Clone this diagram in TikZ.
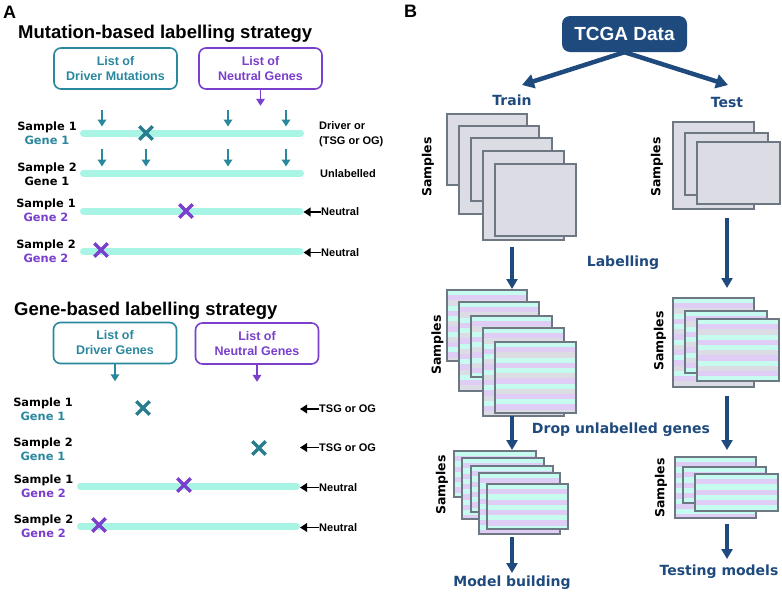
\documentclass[tikz,border=0pt]{standalone}
\usepackage{fontspec}
\setmainfont{DejaVu Sans}
\newfontfamily\arialfont{Liberation Sans}
\usetikzlibrary{arrows.meta}
\usetikzlibrary{shapes.misc}
\usetikzlibrary{calc}

\definecolor{tealc}{HTML}{2A889E}
\definecolor{tealx}{HTML}{2A7D8E}
\definecolor{purpc}{HTML}{7A3FCC}
\definecolor{barcol}{HTML}{A8F5E6}
\definecolor{navy}{HTML}{1F4A7E}
\definecolor{sheetfill}{HTML}{DCDCE4}
\definecolor{sheetline}{HTML}{6E7883}
\definecolor{gc}{HTML}{C6FCF0}
\definecolor{gp}{HTML}{E0CDF5}
\definecolor{gg}{HTML}{DCDCE4}

\newcommand\rawstripes{gc,gp,gg,gc,gp,gc,gg,gp,gc,gg,gp,gc,gp,gg,gc,gp,gg,gc}
\newcommand\cleanstripes{gc,gp,gc,gp,gc,gp,gc,gp,gc,gp,gc,gp,gc,gp,gc,gp,gc,gp}

\tikzset{
  listbox/.style={draw=#1, text=#1, line width=1.6pt, rounded corners=7pt,
    minimum width=123pt, minimum height=41pt, align=center, inner sep=0pt,
    font=\arialfont\bfseries\fontsize{12.5}{15}\selectfont},
  samplelab/.style={align=center, inner sep=0pt, font=\bfseries\fontsize{11.4}{14}\selectfont},
  sidelab/.style={anchor=west, align=left, inner sep=0pt,
    font=\arialfont\bfseries\fontsize{11}{15}\selectfont},
  genebar/.style={line width=7pt, line cap=round, barcol},
  mutx/.style={cross out, draw=#1, line width=3.4pt, minimum size=10pt, inner sep=0pt},
  smallarr/.style={#1, line width=1.8pt, -{Triangle[width=8.5pt,length=7pt]}},
  bigarr/.style={navy, line width=4pt, -{Triangle[width=11pt,length=10pt]}},
  splitarr/.style={navy, line width=4.5pt, -{Triangle[width=14pt,length=12pt]}},
  bluelab/.style={navy, inner sep=0pt, font=\bfseries\fontsize{14}{16}\selectfont},
  samplesrot/.style={rotate=90, inner sep=0pt, font=\bfseries\fontsize{12.5}{14}\selectfont},
  plainsheet/.style={draw=sheetline, fill=sheetfill, line width=1.1pt},
  rawsheet/.style={draw=sheetline, line width=1.1pt, path picture={
    \foreach \c [count=\i from 0] in \rawstripes
      {\fill[\c] ($(path picture bounding box.north west)+(0,\i*5.2)$) rectangle ++(95,5.2);}}},
  cleansheet/.style={draw=sheetline, line width=1.1pt, path picture={
    \foreach \c [count=\i from 0] in \cleanstripes
      {\fill[\c] ($(path picture bounding box.north west)+(0,\i*5.2)$) rectangle ++(95,5.2);}}},
}

\begin{document}
\begin{tikzpicture}[x=1pt, y=-1pt]
    \fill[white] (0,0) rectangle (782,595);
    \useasboundingbox (0,0) rectangle (782,595);

    % panel A
    \node[anchor=base west, inner sep=0pt, font=\arialfont\bfseries\fontsize{18}{20}\selectfont] (pa) at (3,18) {A};
    \node[anchor=base west, inner sep=0pt, font=\arialfont\bfseries\fontsize{18.5}{20}\selectfont] (mtitle) at (18,38) {Mutation-based labelling strategy};

    \node[listbox=tealc] (mdrv) at (115.5,68.5) {List of\\Driver Mutations};
    \node[listbox=purpc] (mneu) at (260.5,68.5) {List of\\Neutral Genes};
    \draw[smallarr=purpc] (mneu.south) -- ++(0,16);

    \node[samplelab] (ms1) at (47,133.5) {Sample 1\\\textcolor{tealc}{Gene 1}};
    \node[samplelab] (ms2) at (47,174) {Sample 2\\Gene 1};
    \node[samplelab] (ms3) at (46,210.5) {Sample 1\\\textcolor{purpc}{Gene 2}};
    \node[samplelab] (ms4) at (46,251) {Sample 2\\\textcolor{purpc}{Gene 2}};

    \coordinate (mb1w) at (83.5,133); \coordinate (mb1e) at (300.5,133);
    \coordinate (mb2w) at (83.5,173); \coordinate (mb2e) at (300.5,173);
    \coordinate (mb3w) at (83.5,211); \coordinate (mb3e) at (300,211);
    \coordinate (mb4w) at (83.5,251.5); \coordinate (mb4e) at (300,251.5);
    \draw[genebar] (mb1w) -- (mb1e);
    \draw[genebar] (mb2w) -- (mb2e);
    \draw[genebar] (mb3w) -- (mb3e);
    \draw[genebar] (mb4w) -- (mb4e);

    \foreach \xx in {102,228,286}
        \draw[smallarr=tealc] (\xx,110) -- (\xx,126.5);
    \foreach \xx in {102,146,228,286}
        \draw[smallarr=tealc] (\xx,149) -- (\xx,166.5);

    \node[mutx=tealx] (mx1) at (146,133) {};
    \node[mutx=purpc] (mx3) at (186,211) {};
    \node[mutx=purpc] (mx4) at (101,250) {};

    \node[sidelab] (mr1) at (319,134) {Driver or\\(TSG or OG)};
    \node[sidelab] (mr2) at (320,174) {Unlabelled};
    \node[sidelab] (mr3) at (321,212) {Neutral};
    \node[sidelab] (mr4) at (321,252.5) {Neutral};
    \draw[smallarr=black] (mr3.west) -- ++(-17.5,0);
    \draw[smallarr=black] (mr4.west) -- ++(-17.5,0);

    \node[anchor=base west, inner sep=0pt, font=\arialfont\bfseries\fontsize{18.5}{20}\selectfont] (gtitle) at (14,315) {Gene-based labelling strategy};

    \node[listbox=tealc] (gdrv) at (115,343) {List of\\Driver Genes};
    \node[listbox=purpc] (gneu) at (257,343.5) {List of\\Neutral Genes};
    \draw[smallarr=tealc] (gdrv.south) -- ++(0,17);
    \draw[smallarr=purpc] (gneu.south) -- ++(0,17);

    \node[samplelab] (gs1) at (43,409) {Sample 1\\\textcolor{tealc}{Gene 1}};
    \node[samplelab] (gs2) at (43,449) {Sample 2\\\textcolor{tealc}{Gene 1}};
    \node[samplelab] (gs3) at (43.5,486) {Sample 1\\\textcolor{purpc}{Gene 2}};
    \node[samplelab] (gs4) at (43.5,526) {Sample 2\\\textcolor{purpc}{Gene 2}};

    \coordinate (gb3w) at (80.5,486); \coordinate (gb3e) at (296.5,486);
    \coordinate (gb4w) at (80.5,526); \coordinate (gb4e) at (296.5,526);
    \draw[genebar] (gb3w) -- (gb3e);
    \draw[genebar] (gb4w) -- (gb4e);

    \node[mutx=tealx] (gx1) at (143,408) {};
    \node[mutx=tealx] (gx2) at (259,448) {};
    \node[mutx=purpc] (gx3) at (184,485) {};
    \node[mutx=purpc] (gx4) at (99,525) {};

    \node[sidelab] (gr1) at (319,409) {TSG or OG};
    \node[sidelab] (gr2) at (319,447.5) {TSG or OG};
    \node[sidelab] (gr3) at (319,487.5) {Neutral};
    \node[sidelab] (gr4) at (319,527.5) {Neutral};
    \draw[smallarr=black] (gr1.west) -- ++(-19,0);
    \draw[smallarr=black] (gr2.west) -- ++(-19,0);
    \draw[smallarr=black] (gr3.west) -- ++(-19,0);
    \draw[smallarr=black] (gr4.west) -- ++(-19,0);

    % panel B
    \node[anchor=base west, inner sep=0pt, font=\arialfont\bfseries\fontsize{18}{20}\selectfont] (pb) at (404,17.5) {B};
    \node[fill=navy, text=white, rounded corners=8pt, minimum width=125pt, minimum height=36pt,
        font=\arialfont\bfseries\fontsize{19}{22}\selectfont] (tcga) at (624.5,34) {TCGA Data};

    \node[bluelab] (train) at (512,100) {Train};
    \node[bluelab] (test) at (727,102) {Test};
    \coordinate (trtip) at (522,85);
    \coordinate (tetip) at (728,85);
    \draw[splitarr] (tcga.south) -- (trtip);
    \draw[splitarr] (tcga.south) -- (tetip);

    % raw data sheets
    \foreach \xa/\ya/\xb/\yb in {447/114/527/185, 459/126/539/214, 471/138/552/201, 483/151/564/240, 495/164/576/236}
        \draw[plainsheet] (\xa,\ya) rectangle (\xb,\yb);
    \foreach \xa/\ya/\xb/\yb in {673/122/754/209, 685/133/768/195, 697/142/780/204}
        \draw[plainsheet] (\xa,\ya) rectangle (\xb,\yb);
    \node[samplesrot] (smp1) at (428,167) {Samples};
    \node[samplesrot] (smp2) at (657,167) {Samples};

    % labelled sheets
    \foreach \xa/\ya/\xb/\yb in {447/290/527/361, 459/302/539/391, 471/316/552/377, 483/328/564/416, 495/342/576/413}
        \draw[rawsheet] (\xa,\ya) rectangle (\xb,\yb);
    \foreach \xa/\ya/\xb/\yb in {673/298/754/387, 685/311/767/373, 697/319/779/381}
        \draw[rawsheet] (\xa,\ya) rectangle (\xb,\yb);
    \node[samplesrot] (smp3) at (437.5,345) {Samples};
    \node[samplesrot] (smp4) at (660,341) {Samples};

    % dropped sheets
    \foreach \xa/\ya/\xb/\yb in {454/451/536/497, 462/458/544/519, 471/466/553/512, 479/473/560/534, 487/484/568/529}
        \draw[cleansheet] (\xa,\ya) rectangle (\xb,\yb);
    \foreach \xa/\ya/\xb/\yb in {675/457/756/518, 683/467/766/503, 695/474/778/511}
        \draw[cleansheet] (\xa,\ya) rectangle (\xb,\yb);
    \node[samplesrot] (smp5) at (442,485) {Samples};
    \node[samplesrot] (smp6) at (661,488) {Samples};

    \coordinate (tr1a) at (512,247); \coordinate (tr1b) at (512,289);
    \coordinate (te1a) at (727,218); \coordinate (te1b) at (727,288);
    \coordinate (tr2a) at (512,416); \coordinate (tr2b) at (512,450);
    \coordinate (te2a) at (727,396); \coordinate (te2b) at (727,450);
    \coordinate (tr3a) at (512,537); \coordinate (tr3b) at (512,573);
    \coordinate (te3a) at (727,524); \coordinate (te3b) at (727,559);
    \draw[bigarr] (tr1a) -- (tr1b);
    \draw[bigarr] (te1a) -- (te1b);
    \draw[bigarr] (tr2a) -- (tr2b);
    \draw[bigarr] (te2a) -- (te2b);
    \draw[bigarr] (tr3a) -- (tr3b);
    \draw[bigarr] (te3a) -- (te3b);

    \node[bluelab] (lab) at (623,263) {Labelling};
    \node[bluelab] (drop) at (621,430) {Drop unlabelled genes};
    \node[bluelab] (build) at (512,583) {Model building};
    \node[bluelab] (testm) at (719,572) {Testing models};
\end{tikzpicture}
\end{document}
